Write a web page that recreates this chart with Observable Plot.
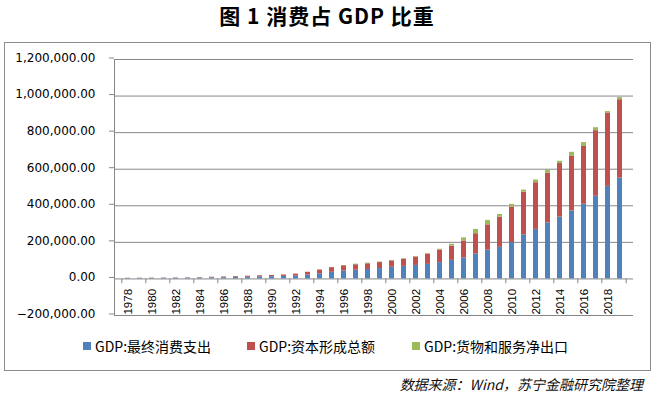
<!DOCTYPE html>
<html>
<head>
<meta charset="utf-8">
<script src="https://cdn.jsdelivr.net/npm/d3@7"></script>
<script src="https://cdn.jsdelivr.net/npm/@observablehq/plot@0.6"></script>
<style>
  html, body { margin: 0; padding: 0; background: #fff; }
  body { width: 654px; height: 397px; position: relative; overflow: hidden; font-family: "Noto Sans CJK SC", sans-serif; }
  #title { position: absolute; left: 0; top: 3px; width: 654px; text-align: center; font-size: 21px; font-weight: bold; line-height: 24px; color: #000; letter-spacing: 1px; }
  #box { position: absolute; left: 4px; top: 42px; width: 645px; height: 327px; border: 1px solid #8c8c8c; box-sizing: content-box; }
  #chart { position: absolute; left: 0; top: 0; }
  .lg { position: absolute; top: 337px; height: 18px; display: flex; align-items: center; font-size: 14px; color: #000; white-space: nowrap; }
  .sw { width: 8px; height: 8px; margin-right: 4px; }
  #caption { position: absolute; right: 11px; top: 374px; font-size: 14px; font-style: italic; color: #111; line-height: 20px; white-space: nowrap; }
</style>
</head>
<body>
<div id="box"></div>
<div id="title">图 1 消费占 GDP 比重</div>
<div id="chart"></div>
<div id="legend"></div>
<div id="caption">数据来源：Wind，苏宁金融研究院整理</div>
<script>
const years = [1978,1979,1980,1981,1982,1983,1984,1985,1986,1987,1988,1989,1990,1991,1992,1993,1994,1995,1996,1997,1998,1999,2000,2001,2002,2003,2004,2005,2006,2007,2008,2009,2010,2011,2012,2013,2014,2015,2016,2017,2018,2019];
const consumption = [2232.9,2578.3,2966.9,3277.3,3575.6,4059.6,4784.4,5917.9,6727.0,7638.7,9423.1,11033.3,12001.4,13614.2,16225.1,20796.7,28272.3,36197.9,43086.8,47508.7,51460.4,56621.7,63667.7,68546.7,74068.2,79513.1,89086.0,101447.8,114728.6,136229.5,157466.3,172728.3,198998.1,241022.1,271112.8,306664.0,338031.0,371920.0,408500.0,452000.0,506134.9,551494.6];
const capital = [1412.7,1519.9,1623.1,1662.8,1784.2,2039.0,2515.1,3457.5,3941.9,4462.0,5700.2,6332.7,6747.0,7868.0,10086.3,15717.7,20341.1,25470.1,28784.9,29968.0,31314.2,32951.5,34842.8,39769.4,45565.0,55963.0,69168.4,77856.8,92954.1,110943.2,138325.3,164463.2,193603.9,233327.2,255240.0,271500.0,293000.0,298000.0,316000.0,359000.0,399000.0,428627.8];
const netExports = [-11.4,-20.0,-15.0,17.0,91.0,51.0,1.3,-366.9,-255.2,10.9,-151.1,-185.6,510.3,617.5,275.6,-701.4,461.0,998.6,1459.2,3549.9,3629.2,2536.6,2390.2,2324.7,3094.1,2986.3,4079.1,10209.1,16654.6,23423.1,24226.8,15037.0,15057.0,11688.0,14636.0,15500.0,12500.0,22500.0,21000.0,16000.0,10000.0,11397.6];
const seriesNames = ["GDP:最终消费支出", "GDP:资本形成总额", "GDP:货物和服务净出口"];
const seriesColors = ["#4F81BD", "#C0504D", "#9BBB59"];
const yTicks = [-200000, 0, 200000, 400000, 600000, 800000, 1000000, 1200000];
const xLabelYears = [1978,1980,1982,1984,1986,1988,1990,1992,1994,1996,1998,2000,2002,2004,2006,2008,2010,2012,2014,2016,2018];
const xTickYears = [1978,1980,1982,1984,1986,1988,1990,1992,1994,1996,1998,2000,2002,2004,2006,2008,2010,2012,2014,2016,2018];

const rows = [];
[consumption, capital, netExports].forEach((vals, s) => {
  years.forEach((yr, i) => rows.push({year: yr, value: vals[i], series: seriesNames[s]}));
});

const W = 654, H = 397, ML = 114, MR = 21, MT = 59, MB = 82;
const step = (W - ML - MR) / years.length;
const grey = "#878787";

const chart = Plot.plot({
  width: W, height: H,
  marginLeft: ML, marginRight: MR, marginTop: MT, marginBottom: MB,
  style: { fontFamily: "DejaVu Sans", fontSize: "12px", background: "transparent", color: "#000" },
  x: { type: "band", domain: years, paddingInner: 0.6, paddingOuter: 0.3, axis: null },
  y: { domain: [-200000, 1200000], axis: null },
  color: { domain: seriesNames, range: seriesColors },
  marks: [
    Plot.gridY(yTicks, { stroke: grey, strokeOpacity: 1, strokeWidth: 1 }),
    Plot.axisY({ ticks: yTicks, tickFormat: d3.format(",.2f"), tickSize: 5, tickPadding: 14, stroke: grey, fill: "#000", fontSize: 12, label: null, dy: -1.5 }),
    Plot.frame({ anchor: "left", stroke: grey }),
    Plot.barY(rows, { x: "year", y: "value", fill: "series", order: seriesNames }),
    Plot.ruleX(xTickYears, { x: d => d, y1: 0, y2: -27000, dx: -step / 2, stroke: grey }),
    Plot.ruleX([years[years.length - 1]], { x: d => d, y1: 0, y2: -27000, dx: step / 2, stroke: grey }),
    Plot.text(xLabelYears, { x: d => d, y: 0, text: d => String(d), rotate: -90, textAnchor: "end", dy: 10, fontSize: 11.5, fontFamily: "Liberation Sans", fill: "#000" })
  ]
});
document.getElementById("chart").appendChild(chart);

const legendLeft = [83, 247, 412];
const lg = document.getElementById("legend");
seriesNames.forEach((name, i) => {
  const d = document.createElement("div");
  d.className = "lg";
  d.style.left = legendLeft[i] + "px";
  d.innerHTML = `<div class="sw" style="background:${seriesColors[i]}"></div><span>${name}</span>`;
  lg.appendChild(d);
});
</script>
</body>
</html>
